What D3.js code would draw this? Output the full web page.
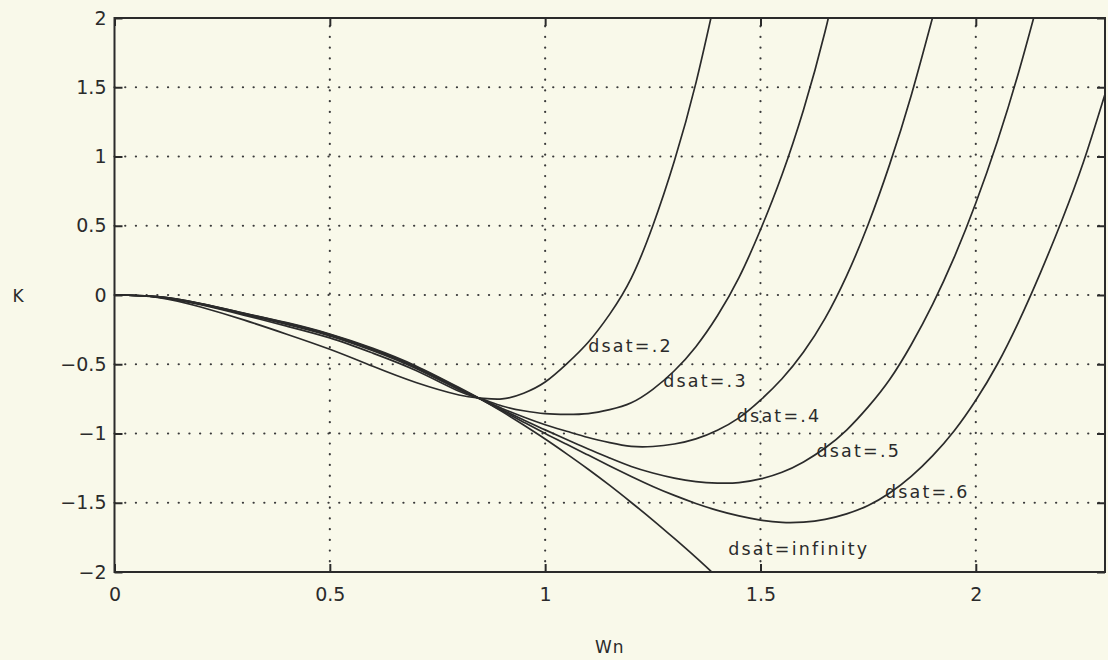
<!DOCTYPE html>
<html>
<head>
	<script src="https://d3js.org/d3.v7.min.js"></script>
	<meta charset="UTF-8">
	<style>
		body{
			margin: 0;
			background-color: #f9f9ea;
		}
		text{
			font-family: "DejaVu Sans", sans-serif;
			fill: #2b2b2b;
		}
	</style>
</head>
<body>
	<script type="text/javascript">
		// tick values
		var xTicks = [0, 0.5, 1, 1.5, 2];
		var yTicks = [-2, -1.5, -1, -0.5, 0, 0.5, 1, 1.5, 2];

		// curves, [Wn, K]
		var dsat2 = [[0,0],[0.1,-0.017],[0.2,-0.087],[0.3,-0.18],[0.4,-0.283],[0.5,-0.392],[0.6,-0.515],[0.7,-0.632],[0.8,-0.722],[0.85,-0.744],[0.9,-0.75],[0.95,-0.709],[1.0,-0.628],[1.05,-0.497],[1.1,-0.341],[1.15,-0.138],[1.2,0.122],[1.25,0.5],[1.3,0.967],[1.35,1.53],[1.4,2.212]];
		var dsat3 = [[0,0],[0.1,-0.015],[0.2,-0.07],[0.3,-0.145],[0.4,-0.225],[0.5,-0.31],[0.6,-0.42],[0.7,-0.545],[0.8,-0.695],[0.85,-0.748],[0.9,-0.801],[0.95,-0.836],[1.0,-0.857],[1.05,-0.862],[1.1,-0.856],[1.15,-0.828],[1.2,-0.778],[1.25,-0.681],[1.3,-0.547],[1.35,-0.373],[1.4,-0.15],[1.45,0.125],[1.5,0.471],[1.55,0.868],[1.6,1.338],[1.65,1.902],[1.7,2.583]];
		var dsat4 = [[0,0],[0.1,-0.014],[0.2,-0.066],[0.3,-0.138],[0.4,-0.212],[0.5,-0.295],[0.6,-0.402],[0.7,-0.53],[0.8,-0.684],[0.85,-0.75],[0.9,-0.819],[0.95,-0.881],[1.0,-0.937],[1.05,-0.984],[1.1,-1.029],[1.15,-1.066],[1.2,-1.093],[1.25,-1.094],[1.3,-1.076],[1.35,-1.039],[1.4,-0.976],[1.45,-0.887],[1.5,-0.759],[1.55,-0.605],[1.6,-0.412],[1.65,-0.169],[1.7,0.138],[1.75,0.509],[1.8,0.943],[1.85,1.441],[1.9,2.008]];
		var dsat5 = [[0,0],[0.1,-0.013],[0.2,-0.064],[0.3,-0.135],[0.4,-0.207],[0.5,-0.29],[0.6,-0.395],[0.7,-0.523],[0.8,-0.678],[0.85,-0.75],[0.9,-0.828],[0.95,-0.902],[1.0,-0.974],[1.05,-1.043],[1.1,-1.112],[1.15,-1.177],[1.2,-1.238],[1.25,-1.285],[1.3,-1.322],[1.35,-1.347],[1.4,-1.358],[1.45,-1.355],[1.5,-1.328],[1.55,-1.28],[1.6,-1.205],[1.65,-1.105],[1.7,-0.975],[1.75,-0.808],[1.8,-0.61],[1.85,-0.359],[1.9,-0.066],[1.95,0.273],[2.0,0.664],[2.05,1.109],[2.1,1.614],[2.15,2.181]];
		var dsat6 = [[0,0],[0.1,-0.012],[0.2,-0.062],[0.3,-0.132],[0.4,-0.203],[0.5,-0.285],[0.6,-0.39],[0.7,-0.518],[0.8,-0.673],[0.85,-0.752],[0.9,-0.835],[0.95,-0.918],[1.0,-1.0],[1.05,-1.078],[1.1,-1.156],[1.15,-1.234],[1.2,-1.31],[1.25,-1.382],[1.3,-1.447],[1.35,-1.505],[1.4,-1.555],[1.45,-1.595],[1.5,-1.625],[1.55,-1.642],[1.6,-1.64],[1.65,-1.62],[1.7,-1.58],[1.75,-1.52],[1.8,-1.43],[1.85,-1.31],[1.9,-1.16],[1.95,-0.98],[2.0,-0.76],[2.05,-0.5],[2.1,-0.19],[2.15,0.16],[2.2,0.54],[2.25,0.96],[2.3,1.45]];
		var dsatInf = [[0,0],[0.1,-0.012],[0.2,-0.062],[0.3,-0.13],[0.4,-0.2],[0.5,-0.282],[0.6,-0.385],[0.7,-0.512],[0.8,-0.668],[0.85,-0.751],[0.9,-0.842],[0.95,-0.939],[1.0,-1.04],[1.05,-1.147],[1.1,-1.258],[1.15,-1.375],[1.2,-1.498],[1.25,-1.625],[1.3,-1.758],[1.35,-1.895],[1.4,-2.038]];

		// curve labels [text, Wn, K] at text baseline start
		var labels = [
			["dsat=.2", 1.1, -0.41],
			["dsat=.3", 1.274, -0.666],
			["dsat=.4", 1.445, -0.92],
			["dsat=.5", 1.630, -1.17],
			["dsat=.6", 1.789, -1.468],
			["dsat=infinity", 1.425, -1.877]
		];

		var w = 1108, h = 660;
		var pl = 114.5, pr = 1105, pt = 18, pb = 572;

		var xScale = d3.scaleLinear().domain([0, 2.3]).range([pl, pr]);
		var yScale = d3.scaleLinear().domain([-2, 2]).range([pb, pt]);

		var svg = d3.select('body').append('svg').attr('width', w).attr('height', h);

		svg.append("defs").append("clipPath").attr("id", "clip")
			.append("rect").attr("x", pl).attr("y", pt).attr("width", pr-pl).attr("height", pb-pt);

		//grid
		var grid = svg.append("g").attr("stroke", "#3a3a3a").attr("stroke-width", 2.2)
			.attr("stroke-linecap", "round").attr("stroke-dasharray", "0.1,10.6");
		grid.selectAll(".gx").data(xTicks.slice(1)).enter().append("line")
			.attr("x1", function(d){return xScale(d);}).attr("x2", function(d){return xScale(d);})
			.attr("y1", pb).attr("y2", pt);
		grid.selectAll(".gy").data(yTicks.slice(1, -1)).enter().append("line")
			.attr("y1", function(d){return yScale(d);}).attr("y2", function(d){return yScale(d);})
			.attr("x1", pl).attr("x2", pr);

		//curves
		var line = d3.line().x(function(d){return xScale(d[0]);}).y(function(d){return yScale(d[1]);})
			.curve(d3.curveNatural);
		var curves = [dsat2, dsat3, dsat4, dsat5, dsat6, dsatInf];
		svg.append("g").attr("clip-path", "url(#clip)").selectAll("path").data(curves).enter().append("path")
			.attr("fill", "none").attr("stroke", "#2b2b2b").attr("stroke-width", 1.7)
			.attr("d", function(d){return line(d);});

		//axes
		var fmt = function(d){return String(d).replace("-", "\u2212");};
		var axisStyle = function(g){
			g.select(".domain").remove();
			g.selectAll(".tick line").attr("stroke", "#2b2b2b").attr("stroke-width", 2);
			g.selectAll(".tick text").style("font-size", "19px").attr("fill", "#2b2b2b");
		};
		svg.append("g").attr("transform", "translate("+pl+",0)")
			.call(d3.axisLeft(yScale).tickValues(yTicks).tickFormat(fmt).tickSizeInner(-8).tickSizeOuter(0).tickPadding(8))
			.call(axisStyle);
		svg.append("g").attr("transform", "translate("+pr+",0)")
			.call(d3.axisRight(yScale).tickValues(yTicks).tickFormat("").tickSizeInner(-8).tickSizeOuter(0))
			.call(axisStyle);
		svg.append("g").attr("transform", "translate(0,"+pb+")")
			.call(d3.axisBottom(xScale).tickValues(xTicks).tickFormat(fmt).tickSizeInner(-8).tickSizeOuter(0).tickPadding(16))
			.call(axisStyle);
		svg.append("g").attr("transform", "translate(0,"+pt+")")
			.call(d3.axisTop(xScale).tickValues(xTicks).tickFormat("").tickSizeInner(-8).tickSizeOuter(0))
			.call(axisStyle);

		//frame
		svg.append("rect").attr("x", pl).attr("y", pt).attr("width", pr-pl).attr("height", pb-pt)
			.attr("fill", "none").attr("stroke", "#2b2b2b").attr("stroke-width", 2);

		//curve labels
		svg.append("g").selectAll("text").data(labels).enter().append("text")
			.attr("x", function(d){return xScale(d[1]);}).attr("y", function(d){return yScale(d[2]);})
			.style("font-size", "17.5px").style("letter-spacing", "2.2px")
			.text(function(d){return d[0];});

		//axis titles
		svg.append("text").attr("x", 18).attr("y", 302).attr("text-anchor", "middle").style("font-size", "17px").text("K");
		svg.append("text").attr("x", (pl+pr)/2).attr("y", 653).attr("text-anchor", "middle").style("font-size", "17px").style("letter-spacing", "1px").text("Wn");
	</script>
</body>
</html>
